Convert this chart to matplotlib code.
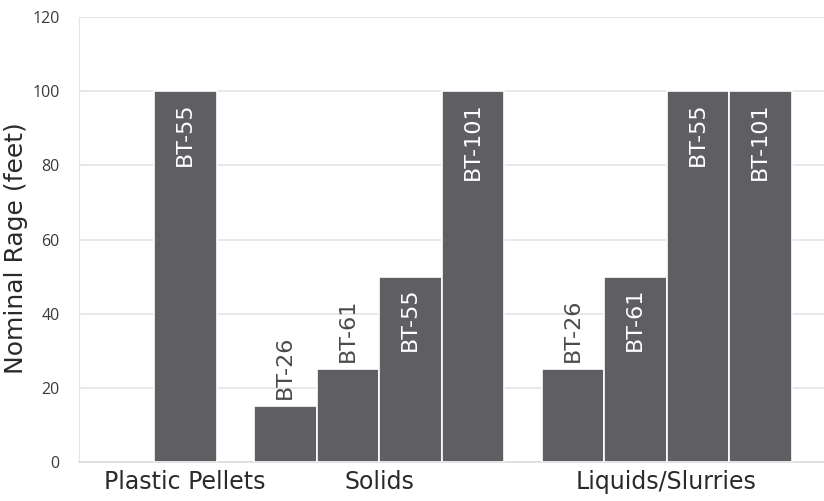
import matplotlib
matplotlib.use("Agg")
import matplotlib.pyplot as plt
import numpy as np

categories = ["Plastic Pellets", "Solids", "Liquids/Slurries"]
group_models = [["BT-55"], ["BT-26", "BT-61", "BT-55", "BT-101"], ["BT-26", "BT-61", "BT-55", "BT-101"]]
group_values = [[100], [15, 25, 50, 100], [25, 50, 100, 100]]
y_ticks = [0, 20, 40, 60, 80, 100, 120]

BAR_COLOR = "#5f5f63"
GAP = 0.6

fig = plt.figure(figsize=(8.24, 5.01), dpi=100)
ax = fig.add_axes([79/824, 1-462/501, 1-79/824, (462-17)/501])

x = 0.0
centers = []
for gi, (models, vals) in enumerate(zip(group_models, group_values)):
    xs = x + np.arange(len(vals))
    ax.bar(xs, vals, width=1.0, color=BAR_COLOR, edgecolor="white", linewidth=1.2, zorder=3)
    for xi, v, m in zip(xs, vals, models):
        if v >= 50:
            ax.annotate(m, (xi, v), xytext=(0, -8), textcoords="offset points",
                        rotation=90, ha="center", va="top", color="white",
                        fontsize=16, family="DejaVu Sans", zorder=4)
        else:
            ax.annotate(m, (xi, v), xytext=(0, 5), textcoords="offset points",
                        rotation=90, ha="center", va="bottom", color="#4a4a4a",
                        fontsize=16, family="DejaVu Sans", zorder=4)
    centers.append((xs[0] + xs[-1]) / 2)
    x = xs[-1] + 1 + GAP

ax.set_xlim(-1.7, 10.22)
ax.set_ylim(0, 120)
ax.set_yticks(y_ticks)
ax.set_yticklabels([str(t) for t in y_ticks], fontsize=11.5, color="#3a3a3a", family="Open Sans")
ax.tick_params(axis="y", length=0, pad=14)
ax.set_xticks(centers)
ax.set_xticklabels(categories, fontsize=17, color="#2a2a2a", family="DejaVu Sans")
ax.tick_params(axis="x", length=0, pad=6)
ax.grid(axis="y", color="#e4e4e4", linewidth=1.2, zorder=0)
ax.set_axisbelow(True)
for s in ["top", "right"]:
    ax.spines[s].set_visible(False)
ax.spines["left"].set_color("#e4e4e4")
ax.spines["bottom"].set_color("#dcdcdc")
ax.spines["bottom"].set_linewidth(1.2)

fig.text(16/824, 1-248/501, "Nominal Rage (feet)", rotation=90, ha="center", va="center",
         fontsize=18, color="#2a2a2a", family="DejaVu Sans")

fig.savefig("out.png", dpi=100)
